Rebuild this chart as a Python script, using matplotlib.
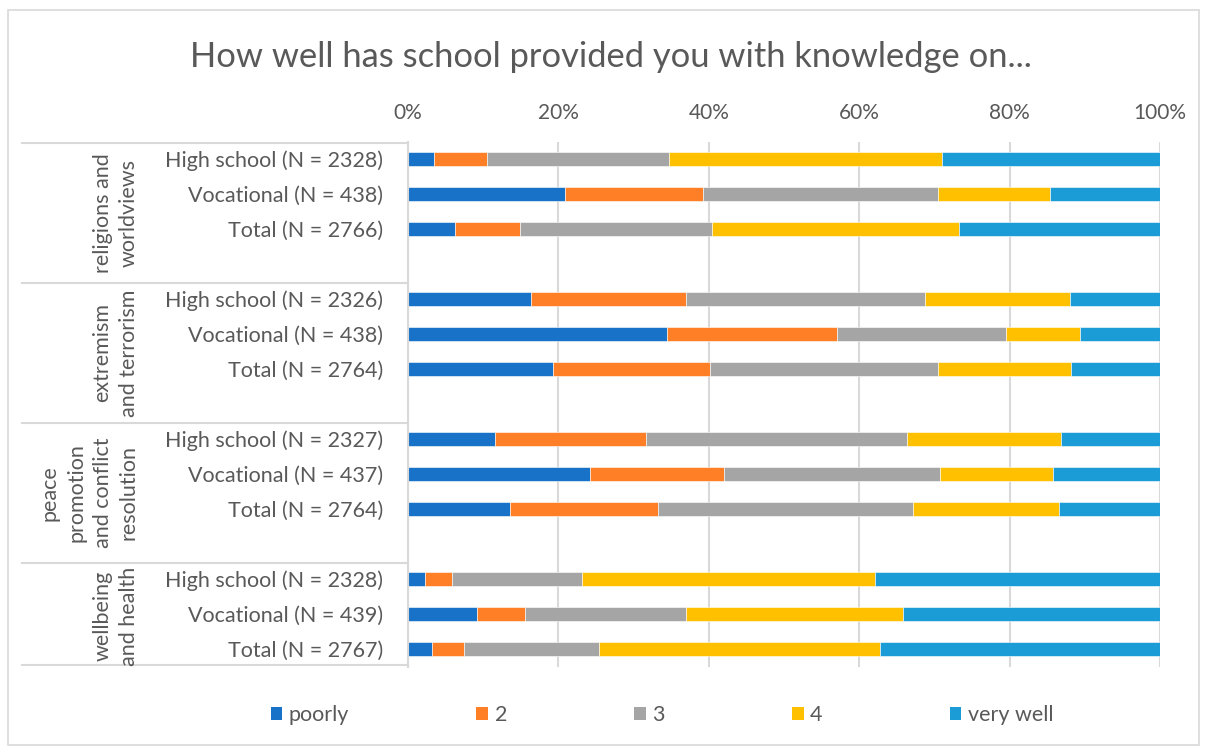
import matplotlib
matplotlib.use("Agg")
import matplotlib.pyplot as plt
from matplotlib.patches import Rectangle, Patch
from matplotlib.lines import Line2D
import numpy as np

plt.rcParams['font.family'] = ['Lato', 'DejaVu Sans']

title = "How well has school provided you with knowledge on..."
groups = ["religions and\nworldviews", "extremism\nand terrorism",
          "peace\npromotion\nand conflict\nresolution", "wellbeing\nand health"]
row_labels = [
    ["High school (N = 2328)", "Vocational (N = 438)", "Total (N = 2766)"],
    ["High school (N = 2326)", "Vocational (N = 438)", "Total (N = 2764)"],
    ["High school (N = 2327)", "Vocational (N = 437)", "Total (N = 2764)"],
    ["High school (N = 2328)", "Vocational (N = 439)", "Total (N = 2767)"],
]
series_names = ["poorly", "2", "3", "4", "very well"]
colors = ['#1872C8', '#FF7F27', '#A5A5A5', '#FFC000', '#1C9CD7']

# percentages per row: poorly, 2, 3, 4, very well
poorly    = [3.5, 20.9, 6.3, 16.4, 34.4, 19.3, 11.6, 24.2, 13.6, 2.2, 9.2, 3.2]
answer_2  = [7.0, 18.3, 8.6, 20.6, 22.7, 20.9, 20.0, 17.8, 19.6, 3.7, 6.4, 4.3]
answer_3  = [24.2, 31.3, 25.5, 31.8, 22.4, 30.3, 34.8, 28.7, 33.9, 17.3, 21.4, 17.9]
answer_4  = [36.3, 14.9, 32.9, 19.2, 9.8, 17.7, 20.4, 15.1, 19.5, 38.9, 28.8, 37.3]
very_well = [29.0, 14.6, 26.7, 12.0, 10.7, 11.8, 13.2, 14.2, 13.4, 37.9, 34.2, 37.3]

W, H = 1205, 749
fig = plt.figure(figsize=(W / 100, H / 100), dpi=100)
fig.patch.set_facecolor('white')

def fx(px):
    return px / W

def fy(py):
    return 1 - py / H

# outer border
fig.patches.append(Rectangle((fx(8), fy(745)), fx(1199) - fx(8), fy(10) - fy(745),
                             transform=fig.transFigure, fill=False,
                             edgecolor='#d9d9d9', linewidth=1.2))

ax_left, ax_right, ax_top, ax_bot = 408, 1160, 141.5, 666.5
ax = fig.add_axes([fx(ax_left), fy(ax_bot), fx(ax_right) - fx(ax_left), fy(ax_top) - fy(ax_bot)])

# y positions: groups of 3 with a gap slot between groups
ypos = []
for g in range(4):
    for r in range(3):
        ypos.append(g * 4 + r)
ypos = np.array(ypos, dtype=float)
labels_flat = [l for grp in row_labels for l in grp]

data = [poorly, answer_2, answer_3, answer_4, very_well]
left = np.zeros(len(ypos))
for vals, c, name in zip(data, colors, series_names):
    v = np.array(vals)
    ax.barh(ypos, v, left=left, height=0.4, color=c, edgecolor='white',
            linewidth=0.4, label=name, zorder=3)
    left += v

ax.set_xlim(0, 100)
ax.set_ylim(14.5, -0.5)
ax.set_xticks(np.arange(0, 101, 20))
ax.set_xticklabels([f"{t}%" for t in range(0, 101, 20)])
ax.xaxis.tick_top()
ax.tick_params(axis='x', length=0, pad=13, labelsize=15, labelcolor='#595959')
ax.set_yticks(ypos)
ax.set_yticklabels(labels_flat)
ax.tick_params(axis='y', length=0, pad=18, labelsize=15.5, labelcolor='#595959')
ax.grid(axis='x', color='#d9d9d9', linewidth=1.5, zorder=0)
for s in ['top', 'right', 'bottom']:
    ax.spines[s].set_visible(False)
ax.spines['left'].set_color('#d9d9d9')
ax.spines['left'].set_linewidth(1.5)
ax.spines['left'].set_zorder(4)

# group separator lines in the label area
for py in [143, 283, 423, 563, 665]:
    fig.add_artist(Line2D([fx(22), fx(ax_left)], [fy(py), fy(py)],
                          transform=fig.transFigure, color='#d9d9d9', linewidth=1.5))

# group labels (rotated)
group_centers = [213, 353, 493, 616]
for gl, cy in zip(groups, group_centers):
    fig.text(fx(139), fy(cy), gl, rotation=90, ha='right', va='center',
             multialignment='center', fontsize=15.5, color='#595959', linespacing=1.4)

# title
fig.text(fx(611), fy(57), title, ha='center', va='center', fontsize=24.8, color='#595959')

# legend
handles = [Patch(facecolor=c, edgecolor='none') for c in colors]
fig.legend(handles, series_names, loc='center', bbox_to_anchor=(fx(662), fy(715)),
           ncol=5, frameon=False, fontsize=15.5, labelcolor='#595959',
           handlelength=0.55, handleheight=0.55, handletextpad=0.3,
           columnspacing=5.9)

fig.savefig("out.png", dpi=100)
